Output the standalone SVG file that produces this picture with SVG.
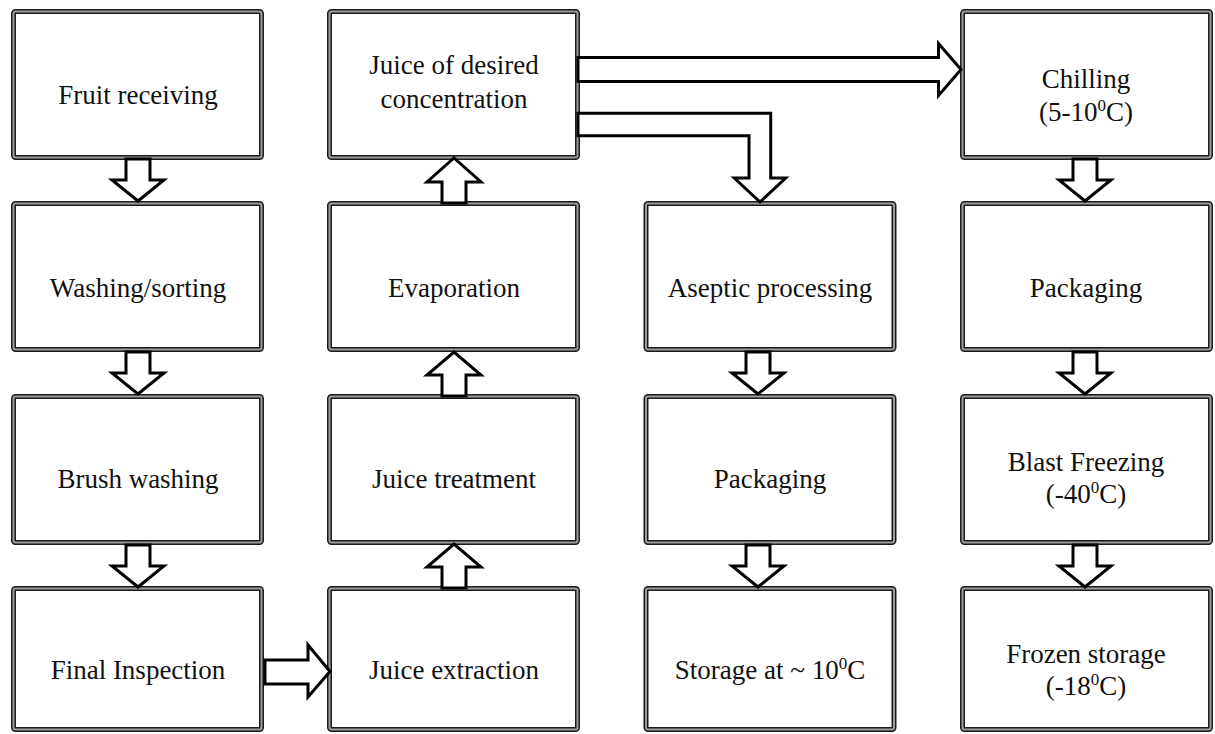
<svg xmlns="http://www.w3.org/2000/svg" width="1215" height="734" viewBox="0 0 1215 734">
<style>
.bo{fill:#fff;stroke:#1a1a1a;stroke-width:5}
.bi{fill:none;stroke:#9c9c9c;stroke-width:2}
.t{font-family:"Liberation Serif","Times New Roman",serif;font-size:27px;fill:#111;text-anchor:middle}
.s{font-size:17px}
.ar{fill:#fff;stroke:#000;stroke-width:3;stroke-linejoin:miter}
</style>
<defs>
<rect id="box" x="0" y="0" width="248" height="146" rx="2"/>
<rect id="boxb" x="0" y="0" width="248" height="141" rx="2"/>
</defs>
<rect width="1215" height="734" fill="#fff"/>
<g id="n1"><use href="#box" class="bo" x="13.5" y="11.5"/><use href="#box" class="bi" x="13.5" y="11.5"/><text class="t" x="138" y="104">Fruit receiving</text></g>
<g id="n2"><use href="#box" class="bo" x="13.5" y="203.5"/><use href="#box" class="bi" x="13.5" y="203.5"/><text class="t" x="138" y="297">Washing/sorting</text></g>
<g id="n3"><use href="#box" class="bo" x="13.5" y="396.5"/><use href="#box" class="bi" x="13.5" y="396.5"/><text class="t" x="138" y="488">Brush washing</text></g>
<g id="n4"><use href="#boxb" class="bo" x="13.5" y="588.5"/><use href="#boxb" class="bi" x="13.5" y="588.5"/><text class="t" x="138" y="679">Final Inspection</text></g>
<g id="n5"><use href="#box" class="bo" x="329.5" y="11.5"/><use href="#box" class="bi" x="329.5" y="11.5"/><text class="t" x="454" y="74">Juice of desired</text><text class="t" x="454" y="108">concentration</text></g>
<g id="n6"><use href="#box" class="bo" x="329.5" y="203.5"/><use href="#box" class="bi" x="329.5" y="203.5"/><text class="t" x="454" y="297">Evaporation</text></g>
<g id="n7"><use href="#box" class="bo" x="329.5" y="396.5"/><use href="#box" class="bi" x="329.5" y="396.5"/><text class="t" x="454" y="488">Juice treatment</text></g>
<g id="n8"><use href="#boxb" class="bo" x="329.5" y="588.5"/><use href="#boxb" class="bi" x="329.5" y="588.5"/><text class="t" x="454" y="679">Juice extraction</text></g>
<g id="n9"><use href="#box" class="bo" x="646" y="203.5"/><use href="#box" class="bi" x="646" y="203.5"/><text class="t" x="770" y="297">Aseptic processing</text></g>
<g id="n10"><use href="#box" class="bo" x="646" y="396.5"/><use href="#box" class="bi" x="646" y="396.5"/><text class="t" x="770" y="488">Packaging</text></g>
<g id="n11"><use href="#boxb" class="bo" x="646" y="588.5"/><use href="#boxb" class="bi" x="646" y="588.5"/><text class="t" x="770" y="679">Storage at ~ 10<tspan class="s" dy="-10">0</tspan><tspan dy="10">C</tspan></text></g>
<g id="n12"><use href="#box" class="bo" x="962.5" y="11.5"/><use href="#box" class="bi" x="962.5" y="11.5"/><text class="t" x="1086" y="88">Chilling</text><text class="t" x="1086" y="121">(5-10<tspan class="s" dy="-10">0</tspan><tspan dy="10">C)</tspan></text></g>
<g id="n13"><use href="#box" class="bo" x="962.5" y="203.5"/><use href="#box" class="bi" x="962.5" y="203.5"/><text class="t" x="1086" y="297">Packaging</text></g>
<g id="n14"><use href="#box" class="bo" x="962.5" y="396.5"/><use href="#box" class="bi" x="962.5" y="396.5"/><text class="t" x="1086" y="471">Blast Freezing</text><text class="t" x="1086" y="503">(-40<tspan class="s" dy="-10">0</tspan><tspan dy="10">C)</tspan></text></g>
<g id="n15"><use href="#boxb" class="bo" x="962.5" y="588.5"/><use href="#boxb" class="bi" x="962.5" y="588.5"/><text class="t" x="1086" y="663">Frozen storage</text><text class="t" x="1086" y="695">(-18<tspan class="s" dy="-10">0</tspan><tspan dy="10">C)</tspan></text></g>
<g id="connectors">
<path class="ar" d="M126 159 H150 V180 H164 L138 201 L112 180 H126 Z"/>
<path class="ar" d="M126 352 H150 V373 H164 L138 394 L112 373 H126 Z"/>
<path class="ar" d="M126 545 H150 V566 H164 L138 587 L112 566 H126 Z"/>
<path class="ar" d="M265 660 V684 H308 V697 L330 671.5 L308 645 V660 Z"/>
<path class="ar" d="M442 588 H466 V567 H481 L454 544 L427 567 H442 Z"/>
<path class="ar" d="M442 396 H466 V375 H481 L454 352 L427 375 H442 Z"/>
<path class="ar" d="M442 203 H466 V182 H481 L454 158 L427 182 H442 Z"/>
<path class="ar" d="M578 57.5 H938.5 V43.5 L961 69.5 L938.5 95.5 V81.5 H578 Z"/>
<path class="ar" d="M578 113.3 H770.7 V178 H785.7 L760 202 L734.3 178 H749 V135.7 H578 Z"/>
<path class="ar" d="M746 352 H770 V373 H784 L758 394 L732 373 H746 Z"/>
<path class="ar" d="M746 545 H770 V566 H784 L758 587 L732 566 H746 Z"/>
<path class="ar" d="M1073 159 H1097 V180 H1111 L1085 201 L1059 180 H1073 Z"/>
<path class="ar" d="M1073 352 H1097 V373 H1111 L1085 394 L1059 373 H1073 Z"/>
<path class="ar" d="M1073 545 H1097 V566 H1111 L1085 587 L1059 566 H1073 Z"/>
</g>
</svg>
